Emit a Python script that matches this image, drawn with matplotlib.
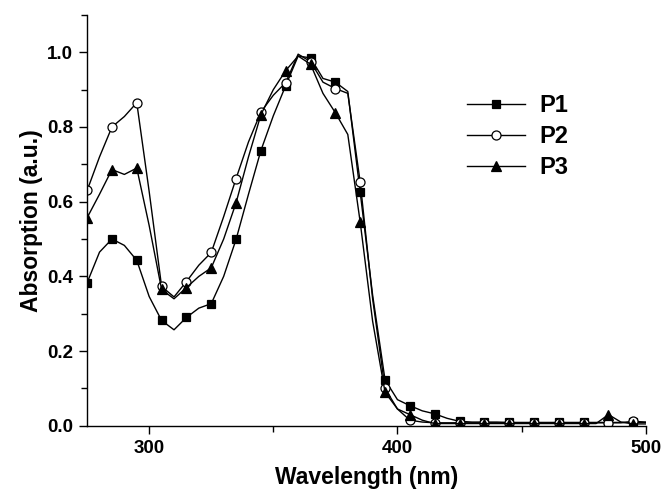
import numpy as np
import matplotlib.pyplot as plt
from matplotlib.ticker import MultipleLocator

plt.rcParams['font.family'] = ['Liberation Sans', 'DejaVu Sans']
plt.rcParams['font.weight'] = 'bold'

# wavelength grid (nm), read every 5 nm; markers drawn every 10 nm
wavelength = np.arange(275, 501, 5)

p1 = [0.383, 0.465, 0.500, 0.483, 0.443, 0.346, 0.282, 0.257, 0.290, 0.315,
      0.327, 0.400, 0.499, 0.620, 0.737, 0.830, 0.911, 0.990, 0.985, 0.930,
      0.920, 0.895, 0.625, 0.350, 0.123, 0.070, 0.054, 0.040, 0.032, 0.020,
      0.012, 0.010, 0.010, 0.010, 0.009, 0.009, 0.009, 0.009, 0.009, 0.009,
      0.009, 0.009, 0.009, 0.009, 0.009, 0.009]
p2 = [0.630, 0.720, 0.800, 0.828, 0.865, 0.627, 0.373, 0.345, 0.386, 0.430,
      0.464, 0.560, 0.662, 0.760, 0.840, 0.885, 0.919, 0.995, 0.975, 0.920,
      0.903, 0.890, 0.652, 0.340, 0.100, 0.045, 0.015, 0.010, 0.008, 0.008,
      0.008, 0.008, 0.008, 0.008, 0.008, 0.008, 0.008, 0.008, 0.008, 0.008,
      0.008, 0.008, 0.008, 0.008, 0.012, 0.010]
p3 = [0.557, 0.620, 0.686, 0.673, 0.690, 0.536, 0.365, 0.340, 0.370, 0.400,
      0.423, 0.500, 0.597, 0.720, 0.833, 0.900, 0.951, 0.990, 0.968, 0.890,
      0.838, 0.780, 0.545, 0.280, 0.090, 0.045, 0.030, 0.015, 0.006, 0.006,
      0.006, 0.006, 0.006, 0.006, 0.006, 0.006, 0.006, 0.006, 0.006, 0.006,
      0.006, 0.006, 0.030, 0.010, 0.005, 0.005]

series = [("P1", p1, "s", "black", 5.5), ("P2", p2, "o", "white", 6.5),
          ("P3", p3, "^", "black", 6.5)]

fig = plt.figure(figsize=(6.65, 4.98), dpi=100)
ax = fig.add_axes([0.131, 0.145, 0.84, 0.825])

for name, vals, mk, face, ms in series:
    ax.plot(wavelength, vals, color="black", lw=1.0, marker=mk, markevery=2,
            markersize=ms, markerfacecolor=face, markeredgecolor="black",
            markeredgewidth=0.9, label=name)

ax.set_xlim(275, 500)
ax.set_ylim(0, 1.1)
ax.xaxis.set_major_locator(MultipleLocator(100))
ax.xaxis.set_minor_locator(MultipleLocator(50))
ax.yaxis.set_major_locator(MultipleLocator(0.2))
ax.yaxis.set_minor_locator(MultipleLocator(0.1))
ax.yaxis.set_major_formatter(plt.FuncFormatter(lambda v, p: f"{v:.1f}"))
ax.tick_params(which="major", direction="out", length=6, width=1,
               labelsize=13.5, pad=4)
ax.tick_params(which="minor", direction="out", length=4, width=1)
ax.spines["top"].set_visible(False)
ax.spines["right"].set_visible(False)
for s in ("left", "bottom"):
    ax.spines[s].set_linewidth(1.0)

ax.set_xlabel("Wavelength (nm)", fontsize=16.5, fontweight="bold", labelpad=7)
ax.set_ylabel("Absorption (a.u.)", fontsize=16.5, fontweight="bold", labelpad=3)

ax.legend(loc="upper left", bbox_to_anchor=(0.663, 0.83), frameon=False,
          fontsize=17, handlelength=2.46, labelspacing=0.34, handletextpad=0.6,
          borderaxespad=0)

fig.savefig("out.png", dpi=100)
